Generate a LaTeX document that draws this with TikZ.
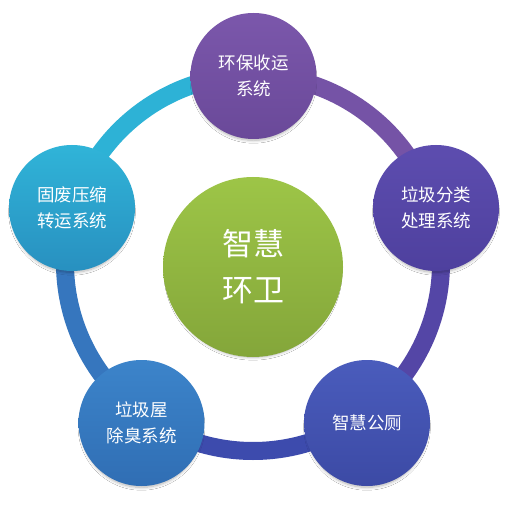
\documentclass[tikz,border=0pt]{standalone}
\usepackage{fontspec}
\newfontfamily\cjk{Noto Sans CJK SC}
\usetikzlibrary{shadows.blur}
\definecolor{ringA}{HTML}{7553A6}
\definecolor{ringB}{HTML}{5446A6}
\definecolor{ringC}{HTML}{3D4BAD}
\definecolor{ringD}{HTML}{3676BE}
\definecolor{ringE}{HTML}{2DB2D6}
\begin{document}
\begin{tikzpicture}[x=1pt,y=-1pt,
  bub/.style={circle, minimum size=126pt, inner sep=0pt, text=white, align=center,
    font=\cjk\fontsize{17.5}{26}\selectfont,
    blur shadow={shadow xshift=0pt, shadow yshift=-4pt, shadow scale=0.96, shadow opacity=30, shadow blur radius=3pt, shadow blur steps=8}},
  hub/.style={bub, minimum size=180pt, font=\cjk\fontsize{31}{46}\selectfont},
  ringseg/.style={line width=18pt, line cap=butt}]
\useasboundingbox (0,0) rectangle (506,510);
\fill[white] (0,0) rectangle (506,510);
\coordinate (rc) at (253,263);
% ring segments
\draw[ringseg, draw=ringA] (rc) ++(-90:188) arc[start angle=-90, end angle=-18, radius=188];
\draw[ringseg, draw=ringB] (rc) ++(-18:188) arc[start angle=-18, end angle=54, radius=188];
\draw[ringseg, draw=ringC] (rc) ++(54:188) arc[start angle=54, end angle=126, radius=188];
\draw[ringseg, draw=ringD] (rc) ++(126:188) arc[start angle=126, end angle=198, radius=188];
\draw[ringseg, draw=ringE] (rc) ++(198:188) arc[start angle=198, end angle=270, radius=188];
% outer nodes
\node[bub, top color={rgb,255:red,123;green,87;blue,171}, bottom color={rgb,255:red,106;green,73;blue,153}] (n1) at (253.5,76) {环保收运\\系统};
\node[bub, top color={rgb,255:red,93;green,77;blue,175}, bottom color={rgb,255:red,78;green,64;blue,158}] (n2) at (436,208) {垃圾分类\\处理系统};
\node[bub, top color={rgb,255:red,74;green,92;blue,188}, bottom color={rgb,255:red,60;green,74;blue,165}] (n3) at (367,423) {智慧公厕};
\node[bub, top color={rgb,255:red,60;green,132;blue,202}, bottom color={rgb,255:red,48;green,110;blue,180}] (n4) at (141.5,423) {垃圾屋\\除臭系统};
\node[bub, top color={rgb,255:red,48;green,180;blue,216}, bottom color={rgb,255:red,40;green,144;blue,192}] (n5) at (72,208) {固废压缩\\转运系统};
% hub
\node[hub, top color={rgb,255:red,157;green,197;blue,71}, bottom color={rgb,255:red,132;green,166;blue,58}] (hubc) at (253,267) {智慧\\环卫};
\end{tikzpicture}
\end{document}
